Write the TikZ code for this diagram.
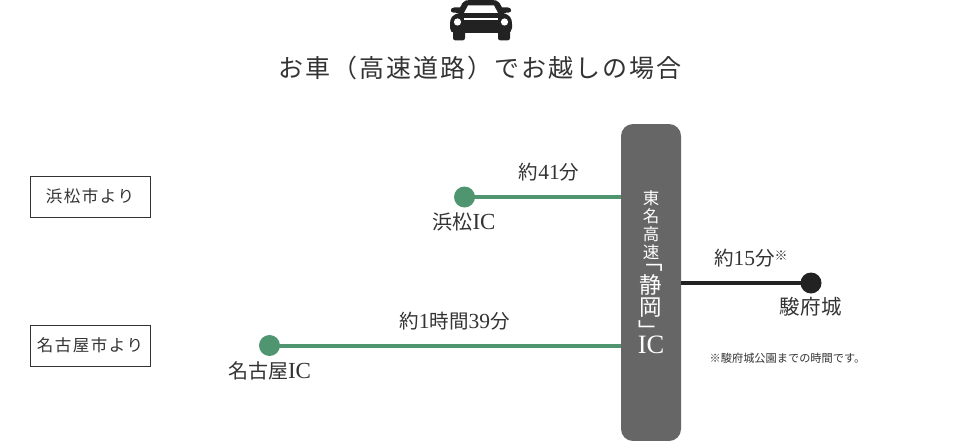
\documentclass[tikz,border=0pt]{standalone}
\usepackage{fontspec}
\setmainfont{Liberation Serif}
\newfontfamily\cjk{Noto Sans CJK JP}
\usetikzlibrary{positioning}
\definecolor{inkgray}{HTML}{333333}
\definecolor{icgreen}{HTML}{4F9570}
\definecolor{roadgray}{HTML}{666666}
\definecolor{carblack}{HTML}{222222}
\newcommand\stopdot[2]{%
\fill[#2] (#1) circle (10.5);
}
\newcommand\latin[2]{{\rmfamily\fontsize{#1}{#1}\selectfont #2}}
\tikzset{
	citybox/.style={draw=inkgray,line width=0.9pt,minimum width=120,minimum height=41,inner sep=0pt,text=inkgray,font=\fontsize{16.5}{16.5}\selectfont\cjk\addfontfeature{LetterSpace=9}},
	place/.style={inner sep=0pt,text=inkgray,font=\fontsize{20}{22}\selectfont\cjk},
	timelabel/.style={inner sep=0pt,text=inkgray,font=\fontsize{19.5}{22}\selectfont\cjk},
	roadtext/.style={inner sep=0pt,text=white,font=\fontsize{16.5}{18}\selectfont\cjk},
	roadname/.style={inner sep=0pt,text=white,font=\fontsize{22.5}{24}\selectfont\cjk},
	roadline/.style={line width=4pt}
}
\begin{document}
\begin{tikzpicture}[x=1pt,y=-1pt]
	\useasboundingbox (0,0) rectangle (960,441);
	% car
	\fill[carblack] (450,24) .. controls (450,18) and (452,15) .. (459,13) -- (453,12.5) .. controls (450,12) and (450,8) .. (454,7.5) -- (460,7.5) -- (462.5,3) .. controls (464,0.5) and (467,0) .. (470,0) -- (492,0) .. controls (495,0) and (498,0.5) .. (499.5,3) -- (502,7.5) -- (508,7.5) .. controls (512,8) and (512,12) .. (509,12.5) -- (503,13) .. controls (510,15) and (512,18) .. (512,24) -- (512,28) .. controls (512,31) and (510,33) .. (507,33) -- (455,33) .. controls (452,33) and (450,31) .. (450,28) -- cycle;
	\fill[carblack,rounded corners=2.5pt] (453,30) rectangle (465,40.5);
	\fill[carblack,rounded corners=2.5pt] (498,30) rectangle (510,40.5);
	\fill[white] (457.5,22) circle (3.6);
	\fill[white] (504.5,22) circle (3.6);
	\fill[white] (464,18.5) rectangle (498,20);
	\fill[white] (468,5.5) -- (494,5.5) -- (498,13) -- (464,13) -- cycle;
	% title
	\node (title) [inner sep=0pt,text=inkgray,font=\fontsize{25}{28}\selectfont\cjk\addfontfeature{LetterSpace=8}] at (480,68) {お車（高速道路）でお越しの場合};
	% cities
	\node (hamamatsu) [citybox] at (90,196.5) {浜松市より};
	\node (nagoya) [citybox] at (90,345.5) {名古屋市より};
	% expressway
	\fill[roadgray,rounded corners=12] (621,124) rectangle (681,441);
	\node (tou) [roadtext] at (651,198) {東};
	\node (mei) [roadtext] at (651,216) {名};
	\node (kou) [roadtext] at (651,234.5) {高};
	\node (soku) [roadtext] at (651,252) {速};
	\node (openq) [roadname] at (652,268) {﹁};
	\node (shizu) [roadname] at (651,285) {静};
	\node (oka) [roadname] at (651,308) {岡};
	\node (closeq) [roadname] at (649.5,330) {﹂};
	\node (icmark) [inner sep=0pt,text=white,font=\rmfamily\fontsize{26.5}{28}\selectfont] at (651,345) {IC};
	\coordinate (roadleft) at (621,197);
	\coordinate (roadlow) at (621,345.5);
	\coordinate (roadright) at (681,283);
	% stops
	\coordinate (hamaic) at (464.5,197);
	\coordinate (nagoic) at (269.5,345.5);
	\coordinate (castle) at (811,283);
	\draw[roadline,icgreen] (hamaic) -- (roadleft);
	\draw[roadline,icgreen] (nagoic) -- (roadlow);
	\draw[roadline,carblack] (castle) -- (roadright);
	\stopdot{hamaic}{icgreen}
	\stopdot{nagoic}{icgreen}
	\stopdot{castle}{carblack}
	% labels
	\node (hamaname) [place] at (464,221.5) {浜松\latin{23}{IC}};
	\node (nagoname) [place] at (269.5,370.5) {名古屋\latin{23}{IC}};
	\node (castlename) [place,font=\fontsize{20.5}{22}\selectfont\cjk\addfontfeature{LetterSpace=2}] at (810.5,306.5) {駿府城};
	\node (hamatime) [timelabel] at (549,172) {約\latin{21.5}{41}分};
	\node (nagotime) [timelabel] at (454.5,321) {約\latin{21.5}{1}時間\latin{21.5}{39}分};
	\node (castletime) [timelabel,anchor=west] at (714,258.5) {約\latin{21.5}{15}分{\fontsize{13}{13}\selectfont\raisebox{5pt}{※}}};
	\node (note) [inner sep=0pt,text=inkgray,font=\fontsize{11.2}{14}\selectfont\cjk] at (787.5,358.5) {※駿府城公園までの時間です。};
\end{tikzpicture}
\end{document}
